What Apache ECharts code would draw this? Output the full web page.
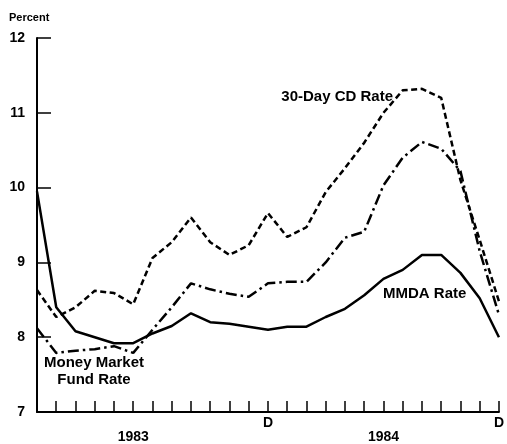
<!DOCTYPE html>
<html>
<head>
<meta charset="utf-8">
<script src="https://cdn.jsdelivr.net/npm/echarts@6/dist/echarts.min.js"></script>
<style>
html,body{margin:0;padding:0;background:#fff;}
#chart{width:507px;height:444px;}
</style>
</head>
<body>
<div id="chart"></div>
<script>
// Months Dec 1982 .. Dec 1984
var months = ['D','J','F','M','A','M','J','J','A','S','O','N','D','J','F','M','A','M','J','J','A','S','O','N','D'];
// Tick labels shown under the axis (by month index)
var tickLabels = {5: '\n1983', 12: 'D', 18: '\n1984', 24: 'D'};
var yTicks = [7, 8, 9, 10, 11, 12];

var mmdaRate = [9.95, 8.4, 8.08, 8.0, 7.92, 7.92, 8.05, 8.15, 8.32, 8.2, 8.18, 8.14, 8.1, 8.14, 8.14, 8.27, 8.38, 8.56, 8.78, 8.9, 9.1, 9.1, 8.86, 8.52, 8.0];
var cdRate = [8.63, 8.27, 8.4, 8.62, 8.59, 8.44, 9.06, 9.27, 9.6, 9.27, 9.1, 9.23, 9.66, 9.34, 9.47, 9.94, 10.26, 10.6, 11.0, 11.3, 11.32, 11.2, 10.1, 9.3, 8.48];
var mmfRate = [8.12, 7.79, 7.82, 7.84, 7.88, 7.79, 8.1, 8.4, 8.72, 8.64, 8.58, 8.54, 8.72, 8.74, 8.74, 9.0, 9.33, 9.41, 10.03, 10.4, 10.61, 10.52, 10.22, 9.15, 8.3];

var chart = echarts.init(document.getElementById('chart'));
var font = '"Liberation Sans", Arial, Helvetica, sans-serif';
chart.setOption({
  animation: false,
  backgroundColor: '#fff',
  grid: {left: 37, right: 6, top: 38, bottom: 32, containLabel: false},
  xAxis: {
    type: 'category',
    data: months,
    boundaryGap: false,
    axisLine: {lineStyle: {color: '#000', width: 2}},
    axisTick: {show: true, inside: true, length: 11, interval: 0, lineStyle: {color: '#000', width: 1.5}},
    axisLabel: {
      interval: 0, margin: 4, color: '#000', fontFamily: font, fontWeight: 'bold', fontSize: 14, lineHeight: 14,
      showMaxLabel: true, showMinLabel: true,
      formatter: function (v, i) { return tickLabels[i] || ''; }
    },
    splitLine: {show: false}
  },
  yAxis: {
    type: 'value',
    min: yTicks[0], max: yTicks[yTicks.length - 1], interval: 1,
    axisLine: {show: true, lineStyle: {color: '#000', width: 2}},
    axisTick: {show: true, inside: true, length: 14, lineStyle: {color: '#000', width: 1.5}},
    axisLabel: {margin: 12, color: '#000', fontFamily: font, fontWeight: 'bold', fontSize: 14},
    splitLine: {show: false}
  },
  graphic: [
    {type: 'text', left: 9, top: 12, style: {text: 'Percent', fill: '#000', font: 'bold 11px ' + font}},
    {type: 'text', x: 393, y: 97, style: {text: '30-Day CD Rate', fill: '#000', font: 'bold 15px ' + font, align: 'right', verticalAlign: 'middle'}},
    {type: 'text', x: 383, y: 294, style: {text: 'MMDA Rate', fill: '#000', font: 'bold 15px ' + font, align: 'left', verticalAlign: 'middle'}},
    {type: 'text', x: 94, y: 371, style: {text: 'Money Market\nFund Rate', fill: '#000', font: 'bold 15px ' + font, align: 'center', verticalAlign: 'middle', lineHeight: 17}}
  ],
  series: [
    {name: 'MMDA Rate', type: 'line', data: mmdaRate, symbol: 'none', lineStyle: {color: '#000', width: 2.5, type: 'solid'}},
    {name: '30-Day CD Rate', type: 'line', data: cdRate, symbol: 'none', lineStyle: {color: '#000', width: 2.5, type: [6, 3.5]}},
    {name: 'Money Market Fund Rate', type: 'line', data: mmfRate, symbol: 'none', lineStyle: {color: '#000', width: 2.5, type: [11, 4, 2.5, 4]}}
  ]
});
</script>
</body>
</html>
